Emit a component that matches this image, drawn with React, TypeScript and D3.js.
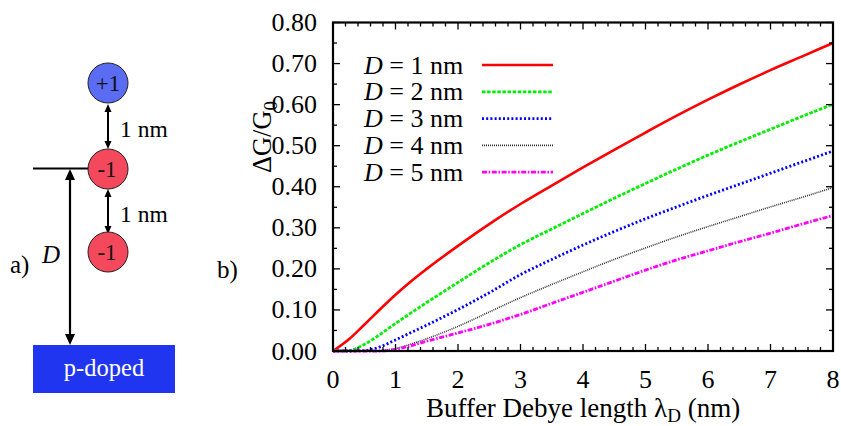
import React from "react";
import * as d3 from "d3";

const lambdaD = [0, 0.25, 0.5, 0.75, 1, 1.25, 1.5, 2, 2.5, 3, 3.5, 4, 4.5, 5, 5.5, 6, 6.5, 7, 7.5, 8];
const seriesD1 = [0, 0.028, 0.064, 0.101, 0.137, 0.170, 0.200, 0.256, 0.309, 0.358, 0.403, 0.447, 0.490, 0.532, 0.573, 0.612, 0.649, 0.684, 0.717, 0.750];
const seriesD2 = [0, 0.001, 0.016, 0.040, 0.067, 0.093, 0.118, 0.167, 0.215, 0.259, 0.297, 0.335, 0.372, 0.408, 0.443, 0.477, 0.509, 0.540, 0.571, 0.601];
const seriesD3 = [0, 0, 0.001, 0.010, 0.027, 0.045, 0.063, 0.101, 0.142, 0.186, 0.223, 0.258, 0.291, 0.322, 0.351, 0.379, 0.406, 0.433, 0.460, 0.487];
const seriesD4 = [0, 0, 0, 0.001, 0.006, 0.017, 0.030, 0.060, 0.095, 0.130, 0.162, 0.193, 0.223, 0.251, 0.278, 0.303, 0.327, 0.351, 0.374, 0.398];
const seriesD5 = [0, 0, 0, 0, 0.004, 0.013, 0.024, 0.044, 0.065, 0.089, 0.116, 0.143, 0.170, 0.197, 0.222, 0.244, 0.266, 0.287, 0.309, 0.330];
const seriesNames = ["1", "2", "3", "4", "5"];
const xTicks = [0, 1, 2, 3, 4, 5, 6, 7, 8];
const yTicks = [0, 0.1, 0.2, 0.3, 0.4, 0.5, 0.6, 0.7, 0.8];

const styles = [
  { color: "#ff0000", dash: "none", width: 2.6 },
  { color: "#00ee00", dash: "3.5,1.6", width: 2.8 },
  { color: "#0000ff", dash: "2,2.2", width: 2.8 },
  { color: "#333333", dash: "1,1", width: 1.6 },
  { color: "#ff00ff", dash: "5,1.6,1.6,1.6", width: 2.8 },
];

const FS = { fontFamily: '"Liberation Serif"' };

export default function App() {
  const left = 333, right = 833, top = 22.5, bottom = 351;
  const x = d3.scaleLinear().domain([0, 8]).range([left, right]);
  const y = d3.scaleLinear().domain([0, 0.8]).range([bottom, top]);
  const all = [seriesD1, seriesD2, seriesD3, seriesD4, seriesD5];
  const line = d3
    .line<number>()
    .x((_, i) => x(lambdaD[i]))
    .y((d) => y(d))
    .curve(d3.curveMonotoneX);

  const xMinor = d3.range(0, 8.0001, 0.2);
  const yMinor = d3.range(0, 0.80001, 0.05);
  const maj = 7, min = 4;

  const arrowHead = (cx: number, cy: number, dir: number, w: number, l: number) =>
    `M${cx},${cy} L${cx - w / 2},${cy - dir * l} L${cx + w / 2},${cy - dir * l} Z`;

  return (
    <svg width={841} height={426} style={{ position: "absolute", left: 0, top: 0, background: "#fff" }}>
      <rect width={841} height={426} fill="#fff" />
      {/* ---- panel a ---- */}
      <g>
        <line x1={33} x2={90} y1={168.5} y2={168.5} stroke="#000" strokeWidth={2} />
        <line x1={70} x2={70} y1={176} y2={336} stroke="#000" strokeWidth={2.2} />
        <path d={arrowHead(70, 169, -1, 10, 11)} fill="#000" />
        <path d={arrowHead(70, 345, 1, 10, 11)} fill="#000" />
        <line x1={108} x2={108} y1={110} y2={143} stroke="#000" strokeWidth={2} />
        <path d={arrowHead(108, 104, -1, 7, 8)} fill="#000" />
        <path d={arrowHead(108, 149, 1, 7, 8)} fill="#000" />
        <line x1={108} x2={108} y1={195} y2={228} stroke="#000" strokeWidth={2} />
        <path d={arrowHead(108, 189, -1, 7, 8)} fill="#000" />
        <path d={arrowHead(108, 234, 1, 7, 8)} fill="#000" />
        <circle cx={108} cy={83} r={20} fill="#5a6cf2" stroke="#222" strokeWidth={1} />
        <circle cx={108} cy={169} r={20} fill="#f4485c" stroke="#222" strokeWidth={1} />
        <circle cx={108} cy={252} r={20} fill="#f4485c" stroke="#222" strokeWidth={1} />
        <text style={FS} x={108} y={91} textAnchor="middle" fontSize={23} fill="#111">+1</text>
        <text style={FS} x={107} y={177} textAnchor="middle" fontSize={23} fill="#111">-1</text>
        <text style={FS} x={107} y={260} textAnchor="middle" fontSize={23} fill="#111">-1</text>
        <text style={FS} x={120} y={137} fontSize={23.5}>1 nm</text>
        <text style={FS} x={120} y={222} fontSize={23.5}>1 nm</text>
        <text style={FS} x={42} y={263} fontSize={25} fontStyle="italic">D</text>
        <text style={FS} x={10} y={273} fontSize={25}>a)</text>
        <rect x={33} y={345} width={142} height={48} fill="#1f35f0" />
        <text style={FS} x={104} y={376} textAnchor="middle" fontSize={24.5} fill="#fff">p-doped</text>
      </g>

      {/* ---- panel b ---- */}
      <text style={FS} x={217} y={278} fontSize={25}>b)</text>

      <g>
        {all.map((s, i) => (
          <path
            key={i}
            d={line(s) || ""}
            fill="none"
            stroke={styles[i].color}
            strokeWidth={styles[i].width}
            strokeDasharray={styles[i].dash}
          />
        ))}
      </g>

      <g stroke="#000" strokeWidth={1.3}>
        {xMinor.map((t, i) => {
          const isMaj = i % 5 === 0;
          const L = isMaj ? maj : min;
          return (
            <g key={"xm" + i}>
              <line x1={x(t)} x2={x(t)} y1={bottom} y2={bottom - L} />
              <line x1={x(t)} x2={x(t)} y1={top} y2={top + L} />
            </g>
          );
        })}
        {yMinor.map((t, i) => {
          const isMaj = i % 2 === 0;
          const L = isMaj ? maj : min;
          return (
            <g key={"ym" + i}>
              <line x1={left} x2={left + L} y1={y(t)} y2={y(t)} />
              <line x1={right} x2={right - L} y1={y(t)} y2={y(t)} />
            </g>
          );
        })}
      </g>

      <rect x={left} y={top} width={right - left} height={bottom - top} fill="none" stroke="#000" strokeWidth={2.2} />

      <g fontSize={26}>
        {yTicks.map((t) => (
          <text style={FS} key={"yl" + t} x={317} y={y(t) + 8.5} textAnchor="end">{t.toFixed(2)}</text>
        ))}
        {xTicks.map((t) => (
          <text style={FS} key={"xl" + t} x={x(t)} y={388} textAnchor="middle">{t}</text>
        ))}
      </g>

      <text style={FS} x={583} y={417} textAnchor="middle" fontSize={27}>
        Buffer Debye length λ<tspan fontSize={19} dy={5}>D</tspan><tspan dy={-5}> (nm)</tspan>
      </text>
      <text style={FS} transform="translate(271,137) rotate(-90)" textAnchor="middle" fontSize={26.5}>
        ΔG/G<tspan fontSize={19} dy={6}>0</tspan>
      </text>

      <g fontSize={26}>
        {seriesNames.map((n, i) => {
          const ly = 65 + i * 26.8;
          return (
            <g key={"lg" + i}>
              <text style={FS} x={364} y={ly + 8.5}>
                <tspan fontStyle="italic">D</tspan> = {n} nm
              </text>
              <line
                x1={482}
                x2={553}
                y1={ly}
                y2={ly}
                stroke={styles[i].color}
                strokeWidth={styles[i].width}
                strokeDasharray={styles[i].dash}
              />
            </g>
          );
        })}
      </g>
    </svg>
  );
}
